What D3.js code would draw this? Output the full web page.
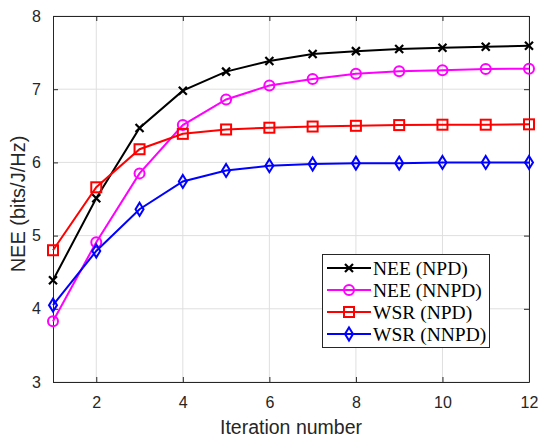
<!DOCTYPE html>
<html><head><meta charset="utf-8">
<script src="https://cdn.jsdelivr.net/npm/d3@7"></script>
<style>body{margin:0;background:#fff}svg{display:block}</style>
</head><body>
<svg id="c" width="540" height="439"></svg>
<script>
const iterations = [1,2,3,4,5,6,7,8,9,10,11,12];
const neeNPD  = [4.39,5.51,6.47,6.98,7.24,7.385,7.48,7.52,7.55,7.567,7.58,7.594];
const neeNNPD = [3.83,4.91,5.85,6.51,6.86,7.05,7.14,7.21,7.245,7.26,7.276,7.28];
const wsrNPD  = [4.80,5.66,6.18,6.39,6.45,6.474,6.49,6.50,6.51,6.515,6.515,6.52];
const wsrNNPD = [4.05,4.79,5.36,5.74,5.89,5.955,5.978,5.99,5.99,6.00,6.00,6.00];
const seriesNames = ["NEE (NPD)","NEE (NNPD)","WSR (NPD)","WSR (NNPD)"];
const xTicks = [2,4,6,8,10,12];
const yTicks = [3,4,5,6,7,8];

const series = [
  {name:seriesNames[0], vals:neeNPD, color:"#000000", marker:"x"},
  {name:seriesNames[1], vals:neeNNPD, color:"#ff00ff", marker:"o"},
  {name:seriesNames[2], vals:wsrNPD, color:"#ff0000", marker:"s"},
  {name:seriesNames[3], vals:wsrNNPD, color:"#0000ff", marker:"d"}
];

const svg = d3.select("#c");
const L=53, R=529, T=16, B=382;
const x = d3.scaleLinear().domain([1,12]).range([L,R]);
const y = d3.scaleLinear().domain([3,8]).range([B,T]);
const axisColor="#262626";
const sans="'Liberation Sans', Arial, Helvetica, sans-serif";

// grid
const g = svg.append("g");
g.selectAll(".gx").data(xTicks).join("line")
  .attr("x1",d=>x(d)).attr("x2",d=>x(d)).attr("y1",T).attr("y2",B)
  .attr("stroke","#dfdfdf").attr("stroke-width",1);
g.selectAll(".gy").data(yTicks).join("line")
  .attr("y1",d=>y(d)).attr("y2",d=>y(d)).attr("x1",L).attr("x2",R)
  .attr("stroke","#dfdfdf").attr("stroke-width",1);

// axes
const fmt = d3.format("d");
const xAxis = d3.axisBottom(x).tickValues(xTicks).tickFormat(fmt).tickSize(-5).tickPadding(15).tickSizeOuter(0);
const yAxis = d3.axisLeft(y).tickValues(yTicks).tickFormat(fmt).tickSize(-5).tickPadding(12).tickSizeOuter(0);
const xa = svg.append("g").attr("transform",`translate(0,${B})`).call(xAxis);
const ya = svg.append("g").attr("transform",`translate(${L},0)`).call(yAxis);
const xt = svg.append("g").attr("transform",`translate(0,${T})`).call(d3.axisTop(x).tickValues(xTicks).tickSize(-5).tickFormat("").tickSizeOuter(0));
const yr = svg.append("g").attr("transform",`translate(${R},0)`).call(d3.axisRight(y).tickValues(yTicks).tickSize(-5).tickFormat("").tickSizeOuter(0));
[xa,ya,xt,yr].forEach(a=>{
  a.selectAll("path").attr("stroke",axisColor).attr("stroke-width",1);
  a.selectAll("line").attr("stroke",axisColor);
  a.selectAll("text").attr("fill",axisColor).style("font-family",sans).style("font-size","16px");
});

svg.append("text").attr("x",(L+R)/2).attr("y",434).attr("text-anchor","middle")
  .attr("fill",axisColor).style("font-family",sans).style("font-size","19.5px")
  .text("Iteration number");
svg.append("text").attr("transform",`translate(25,204) rotate(-90)`).attr("text-anchor","middle")
  .attr("fill",axisColor).style("font-family",sans).style("font-size","20px")
  .text("NEE (bits/J/Hz)");

function drawMarker(sel, type, color){
  sel.each(function(){
    const m = d3.select(this);
    if(type==="x"){
      m.append("path").attr("d","M-4,-4L4,4M-4,4L4,-4").attr("stroke",color).attr("stroke-width",2.2).attr("fill","none");
    } else if(type==="o"){
      m.append("circle").attr("r",5).attr("stroke",color).attr("stroke-width",2).attr("fill","none");
    } else if(type==="s"){
      m.append("rect").attr("x",-5).attr("y",-5).attr("width",10).attr("height",10).attr("stroke",color).attr("stroke-width",2).attr("fill","none");
    } else if(type==="d"){
      m.append("path").attr("d","M0,-6.5L4,0L0,6.5L-4,0Z").attr("stroke",color).attr("stroke-width",2).attr("fill","none");
    }
  });
}

const line = d3.line().x((d,i)=>x(iterations[i])).y(d=>y(d));
series.forEach(s=>{
  svg.append("path").attr("d",line(s.vals)).attr("fill","none").attr("stroke",s.color).attr("stroke-width",2);
  const mk = svg.append("g").selectAll("g").data(s.vals).join("g")
    .attr("transform",(d,i)=>`translate(${x(iterations[i])},${y(d)})`);
  drawMarker(mk, s.marker, s.color);
});

// legend
const lg = svg.append("g");
lg.append("rect").attr("x",322.5).attr("y",254.5).attr("width",167).attr("height",93)
  .attr("fill","#fff").attr("stroke",axisColor).attr("stroke-width",1);
series.forEach((s,i)=>{
  const yy = 268 + i*22;
  lg.append("line").attr("x1",327).attr("x2",371).attr("y1",yy).attr("y2",yy).attr("stroke",s.color).attr("stroke-width",2);
  const mk = lg.append("g").attr("transform",`translate(349,${yy})`);
  drawMarker(mk, s.marker, s.color);
  lg.append("text").attr("x",373).attr("y",yy+6.5).attr("fill","#000")
    .style("font-family","'Liberation Serif', 'Times New Roman', serif").style("font-size","19.5px")
    .text(s.name);
});
</script>
</body></html>
